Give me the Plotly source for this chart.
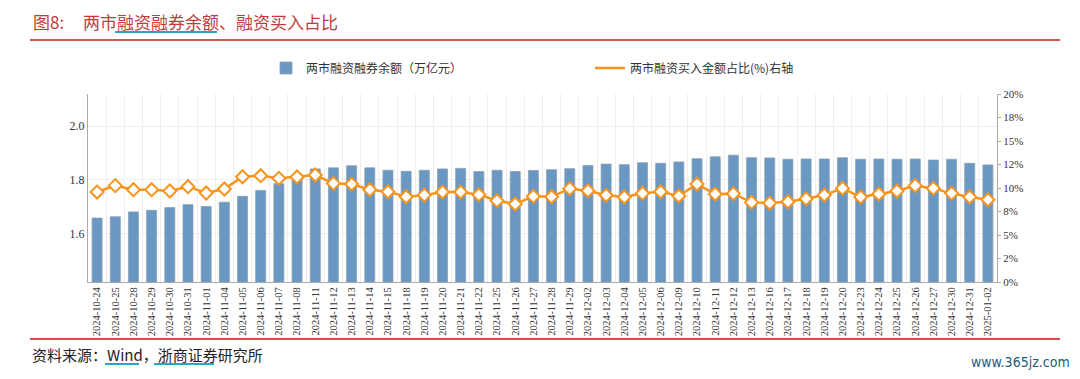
import plotly.graph_objects as go

dates = ["2024-10-24","2024-10-25","2024-10-28","2024-10-29","2024-10-30","2024-10-31",
         "2024-11-01","2024-11-04","2024-11-05","2024-11-06","2024-11-07","2024-11-08",
         "2024-11-11","2024-11-12","2024-11-13","2024-11-14","2024-11-15","2024-11-18",
         "2024-11-19","2024-11-20","2024-11-21","2024-11-22","2024-11-25","2024-11-26",
         "2024-11-27","2024-11-28","2024-11-29","2024-12-02","2024-12-03","2024-12-04",
         "2024-12-05","2024-12-06","2024-12-09","2024-12-10","2024-12-11","2024-12-12",
         "2024-12-13","2024-12-16","2024-12-17","2024-12-18","2024-12-19","2024-12-20",
         "2024-12-23","2024-12-24","2024-12-25","2024-12-26","2024-12-27","2024-12-30",
         "2024-12-31","2025-01-02"]

margin_balance = [1.658, 1.663, 1.681, 1.687, 1.697, 1.708, 1.701, 1.717, 1.739, 1.761,
                  1.786, 1.805, 1.841, 1.845, 1.853, 1.845, 1.836, 1.832, 1.836, 1.841,
                  1.843, 1.831, 1.836, 1.831, 1.835, 1.838, 1.842, 1.854, 1.859, 1.857,
                  1.864, 1.862, 1.867, 1.879, 1.886, 1.892, 1.883, 1.882, 1.877, 1.878,
                  1.878, 1.883, 1.877, 1.878, 1.877, 1.878, 1.874, 1.877, 1.862, 1.856]

buy_ratio = [9.57, 10.25, 9.82, 9.82, 9.68, 10.14, 9.47, 9.89, 11.20, 11.31,
             11.03, 11.17, 11.38, 10.49, 10.42, 9.82, 9.61, 9.07, 9.24, 9.57,
             9.57, 9.29, 8.65, 8.30, 9.11, 9.07, 9.93, 9.71, 9.22, 9.04,
             9.43, 9.61, 9.15, 10.42, 9.36, 9.40, 8.47, 8.40, 8.54, 8.86,
             9.25, 9.96, 9.04, 9.36, 9.68, 10.25, 9.96, 9.43, 9.04, 8.75]

right_tickvals = [0, 2.5, 5, 7.5, 10, 12.5, 15, 17.5, 20]
right_ticktext = ["0%", "2%", "5%", "8%", "10%", "12%", "15%", "18%", "20%"]

# page body has an 8px default margin; figure sized to fill the rest of the window
OFF = 8
W, H = 1080 - 2 * OFF, 379 - 2 * OFF
# plot area in screen pixels
X0, X1, Y0, Y1 = 88, 997, 94, 282
L, R, T, B = X0 - OFF, W - (X1 - OFF), Y0 - OFF, H - (Y1 - OFF)
PW, PH = X1 - X0, Y1 - Y0

def px(x):
    return (x - X0) / PW

def py(y):
    return (Y1 - y) / PH

CJK = "Noto Sans CJK SC"
SERIF = "Liberation Serif"
ORANGE = "#F7941D"

fig = go.Figure()
fig.add_trace(go.Bar(
    x=dates, y=margin_balance, name="两市融资融券余额（万亿元）",
    marker=dict(color="#6A98C3", line=dict(color="#8A9FB4", width=0.8)),
    yaxis="y",
))
fig.add_trace(go.Scatter(
    x=dates, y=buy_ratio, name="两市融资买入金额占比(%)右轴",
    mode="lines+markers", showlegend=False, legendgroup="ratio",
    line=dict(color=ORANGE, width=2.5),
    marker=dict(symbol="diamond", size=10, color="#FFFFFF",
                line=dict(color=ORANGE, width=2)),
    yaxis="y2",
))
# legend entry (line only, as in the reference legend)
fig.add_trace(go.Scatter(
    x=[None], y=[None], name="两市融资买入金额占比(%)右轴",
    mode="lines", legendgroup="ratio",
    line=dict(color=ORANGE, width=2.5), yaxis="y2",
))

fig.update_layout(
    width=W, height=H,
    margin=dict(l=L, r=R, t=T, b=B),
    paper_bgcolor="white", plot_bgcolor="white",
    bargap=0.45,
    showlegend=True,
    legend=dict(orientation="h", x=px(266), y=py(68), xanchor="left", yanchor="middle",
                xref="paper", yref="paper",
                font=dict(family=CJK, size=12, color="#333333"),
                entrywidth=279, entrywidthmode="pixels",
                bgcolor="rgba(0,0,0,0)"),
    xaxis=dict(type="category", range=[-0.5, len(dates) - 0.5],
               tickangle=-90, tickson="boundaries",
               tickfont=dict(family=SERIF, size=10.5, color="#333333"),
               showgrid=True, gridcolor="#EEEEEE", gridwidth=1,
               showline=True, linecolor="#AAAAAA", linewidth=1,
               ticks="", automargin=False),
    yaxis=dict(range=[1.42, 2.12], tick0=1.6, dtick=0.2, tickformat=".1f",
               tickfont=dict(family=SERIF, size=12, color="#333333"),
               showgrid=True, gridcolor="#EEEEEE", gridwidth=1,
               showline=True, linecolor="#AAAAAA", linewidth=1,
               zeroline=False, ticks="", automargin=False),
    yaxis2=dict(range=[0, 20], overlaying="y", side="right",
                tickvals=right_tickvals, ticktext=right_ticktext,
                tickfont=dict(family=SERIF, size=11, color="#333333"),
                showgrid=False, showline=True, linecolor="#AAAAAA", linewidth=1,
                ticks="outside", ticklen=3, tickcolor="#AAAAAA",
                zeroline=False, automargin=False),
)

annotations = [
    dict(text="图8:", x=px(31), y=py(22), xanchor="left", yanchor="middle",
         font=dict(family=CJK, size=17, color="#C23B3B")),
    dict(text="两市融资融券余额、融资买入占比", x=px(81), y=py(22), xanchor="left", yanchor="middle",
         font=dict(family=CJK, size=17, color="#C23B3B")),
    dict(text="资料来源：Wind，浙商证券研究所", x=px(30), y=py(354), xanchor="left", yanchor="middle",
         font=dict(family=CJK, size=15, color="#222222")),
    dict(text="www.365jz.com", x=px(1072), y=py(362), xanchor="right", yanchor="middle",
         font=dict(family="DejaVu Sans Condensed, DejaVu Sans", size=14, color="#1E5C7A")),
]
for a in annotations:
    a.update(xref="paper", yref="paper", showarrow=False)
fig.update_layout(annotations=annotations)

shapes = [
    dict(type="line", x0=px(30), x1=px(1060), y0=py(40), y1=py(40),
         line=dict(color="#D05555", width=2)),
    dict(type="line", x0=px(115), x1=px(217), y0=py(32), y1=py(32),
         line=dict(color="#2AA7C0", width=2)),
    dict(type="line", x0=px(30), x1=px(1060), y0=py(339), y1=py(339),
         line=dict(color="#CC1111", width=1.5)),
    dict(type="line", x0=px(105), x1=px(139), y0=py(364), y1=py(364),
         line=dict(color="#2AA7C0", width=2)),
    dict(type="line", x0=px(154), x1=px(214), y0=py(364), y1=py(364),
         line=dict(color="#2AA7C0", width=2)),
]
for s in shapes:
    s.update(xref="paper", yref="paper")
fig.update_layout(shapes=shapes)

fig.write_html("out.html")
